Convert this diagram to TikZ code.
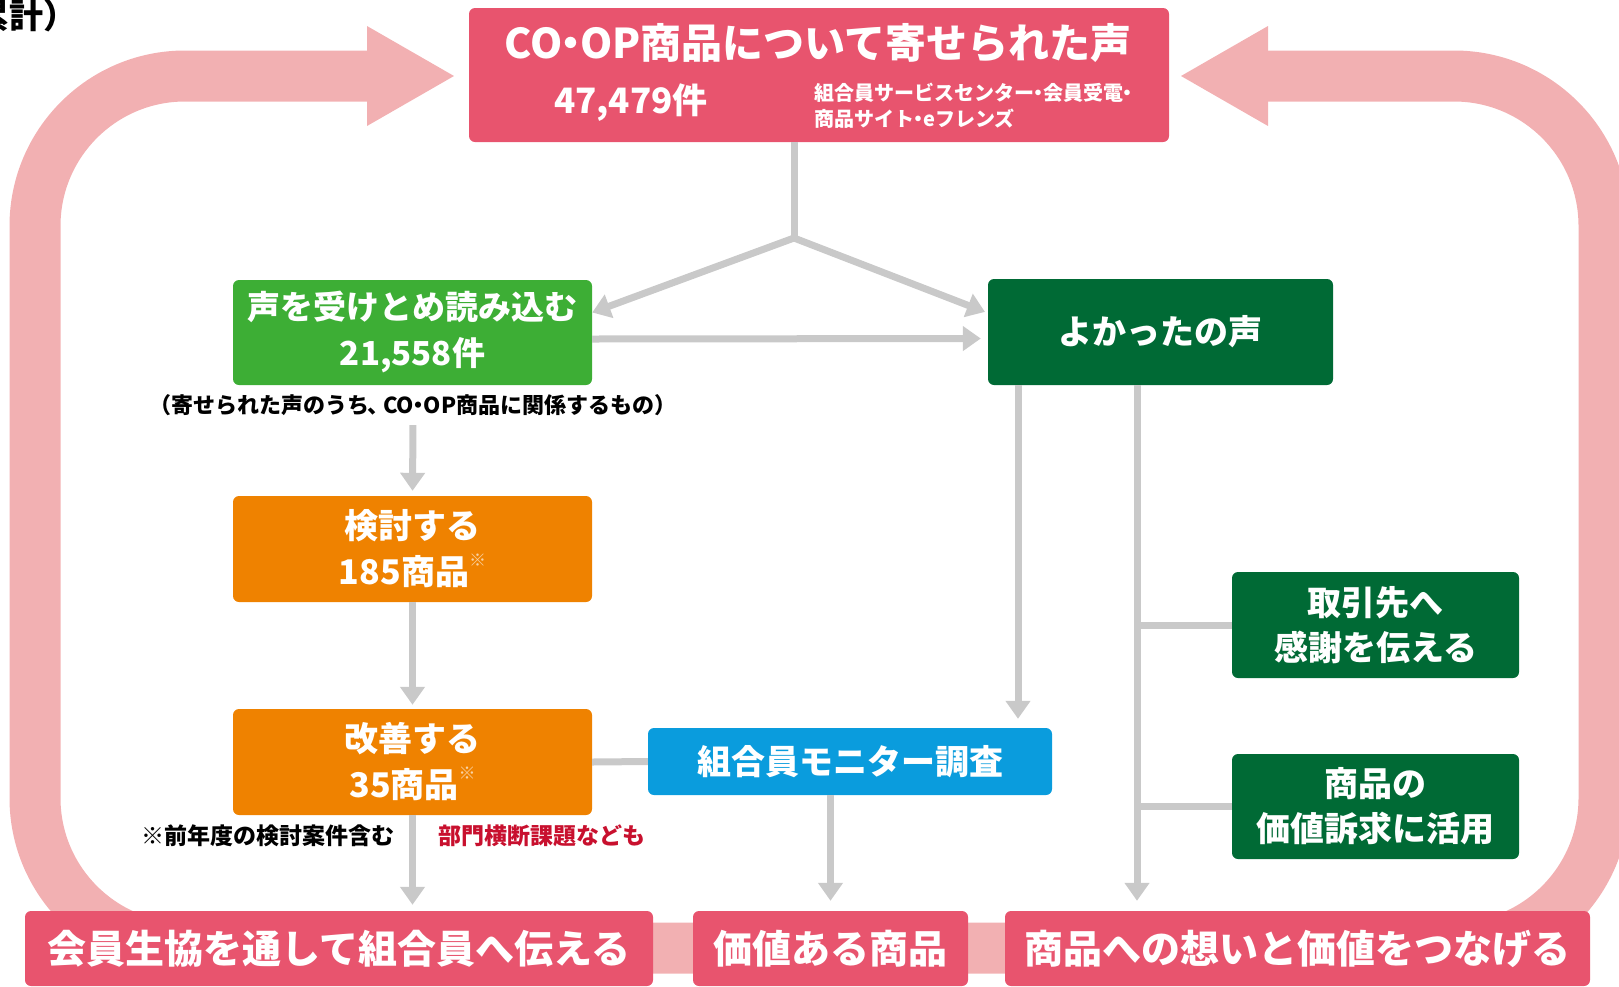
\documentclass[tikz,border=0pt]{standalone}
\usepackage{fontspec}
\setmainfont{Noto Sans CJK JP}
\usetikzlibrary{arrows.meta}
\definecolor{pinkbox}{HTML}{E8546E}
\definecolor{pinkband}{HTML}{F2B0B2}
\definecolor{greenbox}{HTML}{3DAE35}
\definecolor{dgreen}{HTML}{006A35}
\definecolor{orangebox}{HTML}{EF8200}
\definecolor{bluebox}{HTML}{0A9CDD}
\definecolor{glinec}{HTML}{C9C9C9}
\definecolor{redtext}{HTML}{C8102E}
\newcommand\fsz[2]{\fontsize{#1}{#2}\selectfont}
\newcommand\kome{\raisebox{0.55em}{\fsz{17}{17}\color{white!65!orangebox}※}}
\newcommand\ndot{\kern-0.28em・\kern-0.28em}
\begin{document}
\begin{tikzpicture}[x=1pt,y=-1pt,
  box/.style={rounded corners=6pt, inner sep=0pt, align=center, text=white, font=\bfseries\fsz{34}{46}},
  bottombox/.style={box, fill=pinkbox, minimum height=75pt, font=\bfseries\fsz{39}{44}},
  gl/.style={draw=glinec, line width=7pt},
  garrow/.style={gl, -{Triangle[length=18pt,width=24pt]}},
  band/.style={draw=pinkband, line width=51pt, rounded corners=150pt}
]
\useasboundingbox (0,0) rectangle (1619,986);

% heading fragment (cut off at the edge, as in the original)
\node[font=\bfseries\fsz{34}{38}, text=black, anchor=east] (head) at (81,16) {累計）};

% big pink loop
\draw[band] (367,76) -- (35,76) -- (35,948) -- (1604,948) -- (1604,76) -- (1268,76);
\fill[pinkband] (367,26) -- (454,76) -- (367,126) -- cycle;
\fill[pinkband] (1268,26) -- (1181,76) -- (1268,126) -- cycle;

% top box
\node[box, fill=pinkbox, minimum width=700pt, minimum height=134pt] (top) at (819,75) {};
\node[text=white, font=\bfseries\fsz{41}{46}] (title) at (818,43) {CO\ndot OP商品について寄せられた声};
\node[text=white, font=\bfseries\fsz{35}{40}] (count) at (631,103) {47,479件};
\node[text=white, anchor=west, align=left, font=\bfseries\fsz{20}{26}] (src) at (811,106) {組合員サービスセンター\ndot 会員受電\ndot\\商品サイト\ndot eフレンズ};

% left column
\node[box, fill=greenbox, minimum width=359pt, minimum height=105pt, font=\bfseries\fsz{33}{46}] (recv) at (412.5,332.5) {声を受けとめ読み込む\\21,558件};
\node[font=\bfseries\fsz{22}{24}, text=black] (cap) at (413,405) {（寄せられた声のうち\kern-0.1em、\kern-0.3em CO\ndot OP商品に関係するもの）};
\node[box, fill=orangebox, minimum width=359pt, minimum height=106pt] (kentou) at (412.5,549) {検討する\\185商品\kome};
\node[box, fill=orangebox, minimum width=359pt, minimum height=106pt] (kaizen) at (412.5,762) {改善する\\35商品\kome};
\node[font=\bfseries\fsz{23}{26}, text=black] (note2) at (268,836) {※前年度の検討案件含む};
\node[font=\bfseries\fsz{23}{26}, text=redtext] (note3) at (542,836) {部門横断課題なども};

% middle
\node[box, fill=bluebox, minimum width=404pt, minimum height=67pt] (monitor) at (850,761.5) {組合員モニター調査};

% right column
\node[box, fill=dgreen, minimum width=345pt, minimum height=106pt] (good) at (1160.5,332) {よかったの声};
\node[box, fill=dgreen, minimum width=287pt, minimum height=106pt, font=\bfseries\fsz{34}{45}] (thanks) at (1375.5,625) {取引先へ\\感謝を伝える};
\node[box, fill=dgreen, minimum width=287pt, minimum height=105pt, font=\bfseries\fsz{34}{45}] (appeal) at (1375.5,806.5) {商品の\\価値訴求に活用};

% bottom boxes
\node[bottombox, minimum width=628pt] (kaiin) at (339,948.5) {会員生協を通して組合員へ伝える};
\node[bottombox, minimum width=275pt] (kachi) at (830.5,948.5) {価値ある商品};
\node[bottombox, minimum width=585pt] (tsunagu) at (1297.5,948.5) {商品への想いと価値をつなげる};

% connectors
\coordinate (branch) at (794,238);
\draw[gl] (top.south -| branch) -- (branch);
\draw[garrow] (branch) -- ([yshift=20pt]recv.east);
\draw[garrow, shorten >=3pt] (branch) -- ([yshift=19pt]good.west);
\draw[garrow, shorten >=7pt] ([yshift=-6.5pt]recv.east) -- ([yshift=-6.5pt]good.west);
\draw[garrow, shorten <=6pt, shorten >=5pt] (cap.south) -- (kentou.north);
\draw[garrow, shorten >=4pt] (kentou.south) -- (kaizen.north);
\draw[gl] (kaizen.east) -- (monitor.west);
\draw[garrow, shorten >=6pt] (kaizen.south) -- (kaizen.south |- kaiin.north);
\draw[garrow, shorten >=10pt] (monitor.south -| kachi.north) -- (kachi.north);
\coordinate (gleft) at ([xshift=-142.5pt]good.south);
\coordinate (gright) at ([xshift=-23.5pt]good.south);
\draw[garrow, shorten >=9pt] (gleft) -- (gleft |- monitor.north);
\draw[garrow, shorten >=10pt] (gright) -- (gright |- tsunagu.north);
\draw[gl] (gright |- thanks.west) -- (thanks.west);
\draw[gl] (gright |- appeal.west) -- (appeal.west);
\end{tikzpicture}
\end{document}
